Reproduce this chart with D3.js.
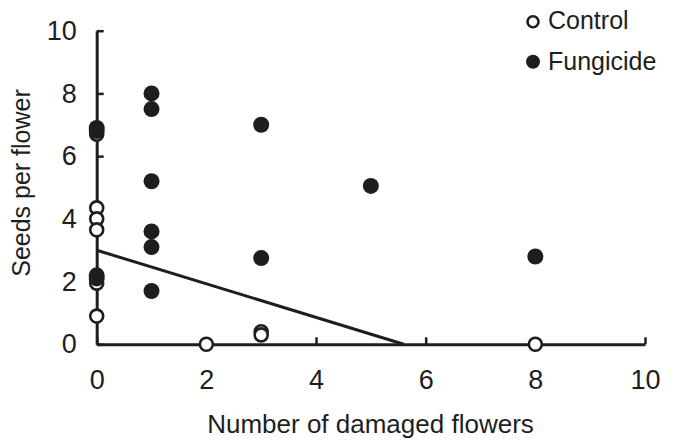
<!DOCTYPE html>
<html>
<head>
<meta charset="utf-8">
<script src="https://cdn.jsdelivr.net/npm/d3@7"></script>
<style>
    body { margin: 0; background: #fff; }
    svg { display: block; font-family: "Liberation Sans", Arial, sans-serif; }
</style>
</head>
<body>
<svg id="chart" width="674" height="440"></svg>
<script>
const controlX = [0, 0, 0, 0, 0, 0, 2, 3, 3, 8];
const controlY = [6.7, 4.35, 4.0, 3.65, 1.95, 0.9, 0, 0.4, 0.3, 0];
const fungicideX = [0, 0, 0, 0, 1, 1, 1, 1, 1, 1, 3, 3, 5, 8];
const fungicideY = [6.9, 6.8, 2.2, 2.1, 8.0, 7.5, 5.2, 3.6, 3.1, 1.7, 7.0, 2.75, 5.05, 2.8];
const fitX = [0, 5.6];
const fitY = [3.0, 0];
const xTicks = [0, 2, 4, 6, 8, 10];
const yTicks = [0, 2, 4, 6, 8, 10];

const ink = "#1e1e1e";
const svg = d3.select("#chart");

const x = d3.scaleLinear().domain([0, 10]).range([96.7, 645]);
const y = d3.scaleLinear().domain([0, 10]).range([344.3, 30.7]);

// axes, ticks pointing inward
const xAxis = svg.append("g")
    .attr("transform", `translate(0,${y(0)})`)
    .call(d3.axisBottom(x).tickValues(xTicks).tickSize(-7).tickSizeOuter(0).tickPadding(26));
const yAxis = svg.append("g")
    .attr("transform", `translate(${x(0)},0)`)
    .call(d3.axisLeft(y).tickValues(yTicks).tickSize(-7).tickSizeOuter(0).tickPadding(20));

[xAxis, yAxis].forEach(g => {
    g.select(".domain").attr("stroke", ink).attr("stroke-width", 3);
    g.selectAll(".tick line").attr("stroke", ink).attr("stroke-width", 2.5);
    g.selectAll(".tick text").attr("fill", ink).style("font-size", "27px")
        .style("font-family", "'Liberation Sans', Arial, sans-serif");
});

// fitted line
svg.append("line")
    .attr("x1", x(fitX[0])).attr("y1", y(fitY[0]))
    .attr("x2", x(fitX[1])).attr("y2", y(fitY[1]))
    .attr("stroke", ink).attr("stroke-width", 3);

// points
svg.append("g").selectAll("circle")
    .data(d3.zip(controlX, controlY))
    .join("circle")
    .attr("cx", d => x(d[0]))
    .attr("cy", d => y(d[1]))
    .attr("r", 6.5)
    .attr("fill", "#fff")
    .attr("stroke", ink)
    .attr("stroke-width", 2.6);

svg.append("g").selectAll("circle")
    .data(d3.zip(fungicideX, fungicideY))
    .join("circle")
    .attr("cx", d => x(d[0]))
    .attr("cy", d => y(d[1]))
    .attr("r", 8)
    .attr("fill", ink);

// axis titles
svg.append("text")
    .attr("x", 370.5).attr("y", 432.5)
    .attr("text-anchor", "middle")
    .attr("fill", ink)
    .style("font-size", "26px")
    .text("Number of damaged flowers");

svg.append("text")
    .attr("transform", "translate(29.5,183) rotate(-90)")
    .attr("text-anchor", "middle")
    .attr("fill", ink)
    .style("font-size", "25px")
    .text("Seeds per flower");

// legend
const legend = svg.append("g");
legend.append("circle").attr("cx", 533).attr("cy", 21.7).attr("r", 5.5)
    .attr("fill", "#fff").attr("stroke", ink).attr("stroke-width", 2.6);
legend.append("text").attr("x", 548).attr("y", 29.3).attr("fill", ink)
    .style("font-size", "25px").text("Control");
legend.append("circle").attr("cx", 533).attr("cy", 61.7).attr("r", 7)
    .attr("fill", ink);
legend.append("text").attr("x", 548).attr("y", 70).attr("fill", ink)
    .style("font-size", "25px").text("Fungicide");
</script>
</body>
</html>
